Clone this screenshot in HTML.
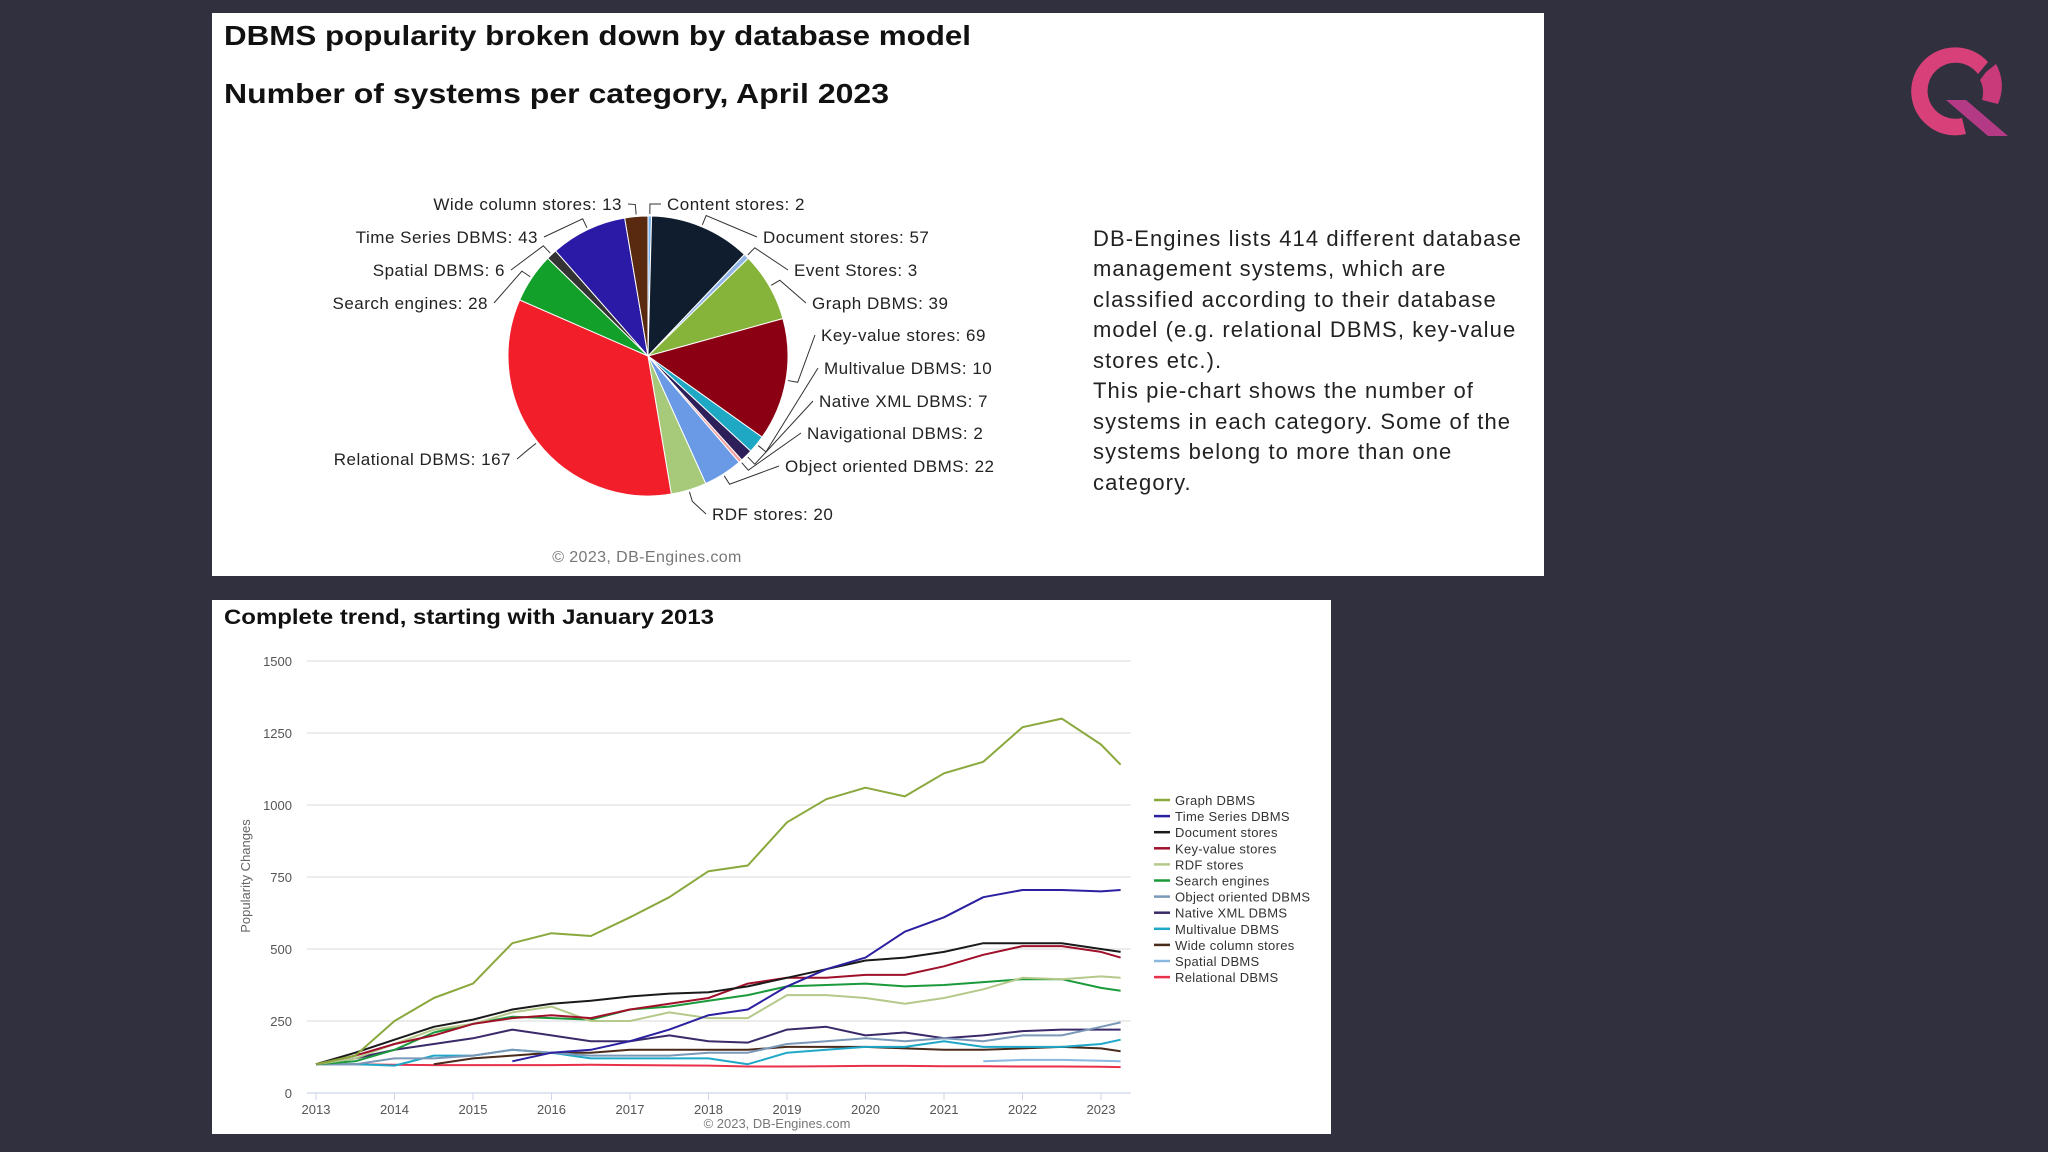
<!DOCTYPE html>
<html><head><meta charset="utf-8"><style>
body{margin:0;width:2048px;height:1152px;background:#30303e;overflow:hidden;font-family:"Liberation Sans",sans-serif;position:relative}
.panel{position:absolute;background:#fff}
</style></head><body>
<div class="panel" style="left:212px;top:13px;width:1332px;height:563px"></div>
<div class="panel" style="left:212px;top:600px;width:1119px;height:534px"></div>
<svg id="logo" width="2048" height="1152" style="position:absolute;left:0;top:0">
  <path d="M1988,62 A44,44 0 1 0 1966,134 L1962,118 A28,28 0 1 1 1978,74 Z" fill="#d8407a"/>
  <path d="M1986,72 L1996,64 A44,44 0 0 1 1998,104 L1982,100 A28,28 0 0 0 1980,80 Z" fill="#c83a7a"/>
  <path d="M1946,100 L1966,100 L2008,136 L1988,136 Z" fill="#b43a86"/>
</svg>
<svg id="pie" width="2048" height="1152" style="position:absolute;left:0;top:0" font-family="Liberation Sans, sans-serif">
  <text x="224" y="45" font-size="28" font-weight="bold" fill="#111" textLength="747" lengthAdjust="spacingAndGlyphs">DBMS popularity broken down by database model</text>
  <text x="224" y="103" font-size="28" font-weight="bold" fill="#111" textLength="665" lengthAdjust="spacingAndGlyphs">Number of systems per category, April 2023</text>
  <text x="647" y="562" font-size="16" fill="#777" text-anchor="middle" letter-spacing="0.4">© 2023, DB-Engines.com</text>
  <g font-size="22" fill="#222" letter-spacing="1.1">
    <text x="1093" y="246">DB-Engines lists 414 different database</text>
    <text x="1093" y="276">management systems, which are</text>
    <text x="1093" y="307">classified according to their database</text>
    <text x="1093" y="337">model (e.g. relational DBMS, key-value</text>
    <text x="1093" y="368">stores etc.).</text>
    <text x="1093" y="398">This pie-chart shows the number of</text>
    <text x="1093" y="429">systems in each category. Some of the</text>
    <text x="1093" y="459">systems belong to more than one</text>
    <text x="1093" y="490">category.</text>
  </g>
  <g id="slices"></g>
  <g id="plabels" font-size="17" fill="#222" letter-spacing="0.5"></g>
</svg>
<svg id="trend" width="2048" height="1152" style="position:absolute;left:0;top:0" font-family="Liberation Sans, sans-serif">
  <text x="224" y="624" font-size="21" font-weight="bold" fill="#111" textLength="490" lengthAdjust="spacingAndGlyphs">Complete trend, starting with January 2013</text>
  <text transform="translate(250,876) rotate(-90)" font-size="13" fill="#666" text-anchor="middle">Popularity Changes</text>
  <text x="777" y="1128" font-size="13" fill="#777" text-anchor="middle">© 2023, DB-Engines.com</text>
  <g id="grid"></g><g id="lines"></g><g id="legend" font-size="13" fill="#333" letter-spacing="0.3"></g>
</svg>
<script>
const NS="http://www.w3.org/2000/svg";
function mk(tag,attrs,parent){const e=document.createElementNS(NS,tag);for(const k in attrs)e.setAttribute(k,attrs[k]);parent.appendChild(e);return e;}
// ---- pie data ----
const pieCats=["Content stores","Document stores","Event Stores","Graph DBMS","Key-value stores","Multivalue DBMS","Native XML DBMS","Navigational DBMS","Object oriented DBMS","RDF stores","Relational DBMS","Search engines","Spatial DBMS","Time Series DBMS","Wide column stores"];
const pieVals=[2,57,3,39,69,10,7,2,22,20,167,28,6,43,13];
const pieColors=["#7cb5ec","#101d2e","#90b4e4","#86b43a","#8b0012","#1fa8c4","#2d1f5a","#f4a0a0","#6a9ae6","#a6c97a","#f21f2b","#12a02a","#333","#2a1aa6","#5a2a10"];
const labelPos=[[667,210,"start"],[763,243,"start"],[794,276,"start"],[812,309,"start"],[821,341,"start"],[824,374,"start"],[819,407,"start"],[807,439,"start"],[785,472,"start"],[712,520,"start"],[511,465,"end"],[488,309,"end"],[505,276,"end"],[538,243,"end"],[622,210,"end"]];
const cx=648,cy=356,R=140;
const tot=pieVals.reduce((a,b)=>a+b,0);
let a0=-Math.PI/2;
const sg=document.getElementById('slices'),lg=document.getElementById('plabels');
pieVals.forEach((v,i)=>{
  const a1=a0+v/tot*2*Math.PI;
  const x0=cx+R*Math.cos(a0),y0=cy+R*Math.sin(a0),x1=cx+R*Math.cos(a1),y1=cy+R*Math.sin(a1);
  const p=mk('path',{d:`M${cx},${cy}L${x0},${y0}A${R},${R} 0 ${a1-a0>Math.PI?1:0} 1 ${x1},${y1}Z`,fill:pieColors[i],stroke:"#fff","stroke-width":1},sg);
  
  
  const am=(a0+a1)/2,ex=cx+(R+2)*Math.cos(am),ey=cy+(R+2)*Math.sin(am);
  const lp=labelPos[i];const lx=lp[2]=="start"?lp[0]-6:lp[0]+6;
  mk('path',{d:`M${ex},${ey}L${ex+10*Math.cos(am)},${ey+10*Math.sin(am)}L${lx},${lp[1]-6}`,fill:"none",stroke:"#333","stroke-width":1},lg);
  const t=mk('text',{x:lp[0],y:lp[1],"text-anchor":lp[2]},lg);t.textContent=pieCats[i]+": "+v;
  
  
  a0=a1;
});
// ---- trend data ----
const years=[2013,2013.5,2014,2014.5,2015,2015.5,2016,2016.5,2017,2017.5,2018,2018.5,2019,2019.5,2020,2020.5,2021,2021.5,2022,2022.5,2023,2023.25];
const seriesNames=["Graph DBMS","Time Series DBMS","Document stores","Key-value stores","RDF stores","Search engines","Object oriented DBMS","Native XML DBMS","Multivalue DBMS","Wide column stores","Spatial DBMS","Relational DBMS"];
const seriesColors=["#8aa83c","#2b20a0","#1a1a1a","#a0102a","#b5c98a","#1a9a3a","#7a98b8","#3a2a6a","#20a8c8","#4a2a1a","#8ab8e0","#e8304a"];
const graphV=[100,130,250,330,380,520,555,545,610,680,770,790,940,1020,1060,1030,1110,1150,1270,1300,1210,1140];
const tsV=[null,null,null,null,null,110,140,150,180,220,270,290,370,430,470,560,610,680,705,705,700,705];
const docV=[100,140,185,230,255,290,310,320,335,345,350,370,400,430,460,470,490,520,520,520,500,490];
const kvV=[100,130,170,200,240,260,270,260,290,310,330,380,400,400,410,410,440,480,510,510,490,470];
const rdfV=[100,120,170,220,240,280,300,250,250,280,260,260,340,340,330,310,330,360,400,395,405,400];
const searchV=[100,110,150,210,240,265,260,255,290,300,320,340,370,375,380,370,375,385,395,395,365,355];
const ooV=[100,100,120,120,130,150,140,130,130,130,140,140,170,180,190,180,190,180,200,200,230,245];
const xmlV=[100,120,150,170,190,220,200,180,180,200,180,175,220,230,200,210,190,200,215,220,220,220];
const mvV=[100,100,95,130,130,150,140,120,120,120,120,100,140,150,160,160,180,160,160,160,170,185];
const wideV=[null,null,null,100,120,130,140,140,150,150,150,150,160,160,160,155,150,150,155,160,155,145];
const spatialV=[null,null,null,null,null,null,null,null,null,null,null,null,null,null,null,null,null,110,115,115,112,110];
const relV=[100,100,98,97,97,97,97,98,97,96,95,92,92,93,94,94,93,93,92,92,91,90];
const seriesVals=[graphV,tsV,docV,kvV,rdfV,searchV,ooV,xmlV,mvV,wideV,spatialV,relV];
const yTicks=[0,250,500,750,1000,1250,1500];
const xTicks=[2013,2014,2015,2016,2017,2018,2019,2020,2021,2022,2023];
const X=t=>316+(t-2013)*78.5, Y=v=>1093-v*432/1500;
const gg=document.getElementById('grid');
yTicks.forEach(v=>{
  const l=mk('line',{x1:307,x2:1131,y1:Y(v),y2:Y(v),stroke:v==0?"#ccd6eb":"#e0e0e0","stroke-width":1.3},gg);
  
  
  const t=mk('text',{x:292,y:Y(v)+5,"text-anchor":"end","font-size":13,fill:"#555"},gg);t.textContent=v;
  
  
});
xTicks.forEach(y=>{
  mk('line',{x1:X(y),x2:X(y),y1:1093,y2:1100,stroke:"#ccd6eb"},gg);
  const t=mk('text',{x:X(y),y:1114,"text-anchor":"middle","font-size":13,fill:"#555"},gg);t.textContent=y;
  
  
});
const lgp=document.getElementById('lines'),leg=document.getElementById('legend');
for(let s=seriesVals.length-1;s>=0;s--){
  let d="",pen=false;
  seriesVals[s].forEach((v,i)=>{if(v==null){pen=false;return;}d+=(pen?"L":"M")+X(years[i]).toFixed(1)+","+Y(v).toFixed(1);pen=true;});
  const p=mk('path',{d:d,fill:"none",stroke:seriesColors[s],"stroke-width":2,"stroke-linejoin":"round"},lgp);
  
  
}
seriesNames.forEach((n,i)=>{
  const y=800+i*16.1;
  const g=mk('g',{},leg);
  
  
  mk('line',{x1:1154,x2:1170,y1:y,y2:y,stroke:seriesColors[i],"stroke-width":2.5},g);
  const t=mk('text',{x:1175,y:y+5},g);t.textContent=n;
});
</script>
</body></html>
